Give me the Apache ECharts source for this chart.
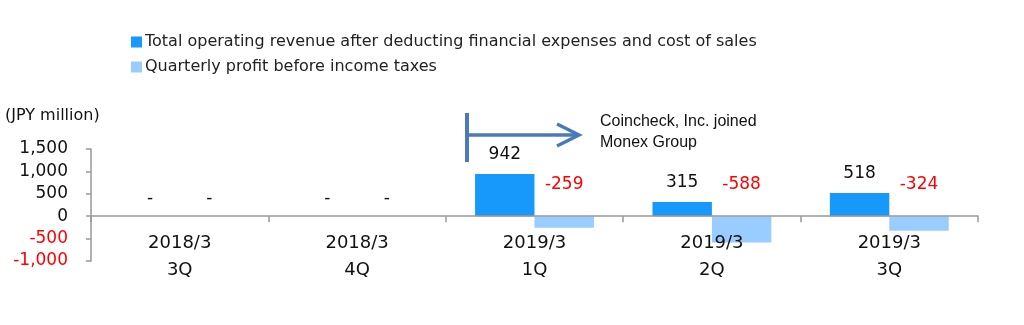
<!DOCTYPE html>
<html>
<head>
<meta charset="utf-8">
<script src="https://cdn.jsdelivr.net/npm/echarts@6/dist/echarts.min.js"></script>
<style>
  html, body { margin: 0; padding: 0; background: #fff; }
  #chart { width: 1024px; height: 325px; }
</style>
</head>
<body>
<div id="chart"></div>
<script>
// Quarterly figures, JPY million (null = not applicable)
const periods = ['2018/3', '2018/3', '2019/3', '2019/3', '2019/3'];
const quarters = ['3Q', '4Q', '1Q', '2Q', '3Q'];
const revenue = [null, null, 942, 315, 518];
const pretaxProfit = [null, null, -259, -588, -324];
const yTicks = { min: -1000, max: 1500, interval: 500 };

const seriesNames = [
  'Total operating revenue after deducting financial expenses and cost of sales',
  'Quarterly profit before income taxes'
];

const FONT = '"DejaVu Sans", Verdana, sans-serif';
const categories = periods.map((p, i) => p + '\n' + quarters[i]);

function fmt(v) {
  return v.toLocaleString('en-US');
}

// Missing values are shown as a dash sitting on the zero line
function toItems(values) {
  return values.map(v => v === null
    ? { value: 0, label: { formatter: '-', color: '#111', distance: 9 } }
    : { value: v });
}

const chart = echarts.init(document.getElementById('chart'), null, { renderer: 'canvas' });

chart.setOption({
  animation: false,
  textStyle: { fontFamily: FONT },
  legend: {
    orient: 'vertical',
    left: 126,
    top: 29,
    itemWidth: 11,
    itemHeight: 11,
    itemGap: 9,
    icon: 'rect',
    textStyle: { fontFamily: FONT, fontSize: 16, color: '#222', padding: [0, 0, 0, -2] },
    data: seriesNames
  },
  grid: { left: 91, right: 46, top: 149, bottom: 64, outerBoundsMode: 'none', containLabel: false },
  xAxis: {
    type: 'category',
    data: categories,
    z: 5,
    axisLine: { onZero: true, lineStyle: { color: '#999', width: 1.5 } },
    axisTick: { show: true, length: 6, inside: false, lineStyle: { color: '#999', width: 1.5 } },
    axisLabel: {
      fontFamily: FONT,
      fontSize: 18,
      color: '#111',
      margin: -31,
      lineHeight: 27
    }
  },
  yAxis: {
    type: 'value',
    min: yTicks.min,
    max: yTicks.max,
    interval: yTicks.interval,
    splitLine: { show: false },
    axisLine: { show: true, lineStyle: { color: '#999', width: 1.5 } },
    axisTick: { show: true, length: 5, lineStyle: { color: '#999', width: 1.5 } },
    axisLabel: {
      fontFamily: FONT,
      fontSize: 17,
      margin: 23,
      padding: [4, 0, 0, 0],
      formatter: v => fmt(v),
      color: v => (Number(v) < 0 ? '#ff0000' : '#111')
    }
  },
  series: [
    {
      name: seriesNames[0],
      type: 'bar',
      barGap: '0%',
      barCategoryGap: '33%',
      itemStyle: { color: '#1799fc' },
      label: {
        show: true,
        position: 'top',
        distance: 11,
        fontFamily: FONT,
        fontSize: 17,
        color: '#111',
        formatter: p => fmt(p.value)
      },
      data: toItems(revenue)
    },
    {
      name: seriesNames[1],
      type: 'bar',
      barGap: '0%',
      barCategoryGap: '33%',
      itemStyle: { color: '#99ccff' },
      label: {
        show: true,
        position: 'top',
        distance: 23,
        fontFamily: FONT,
        fontSize: 17,
        color: '#ff0000',
        formatter: p => fmt(p.value)
      },
      data: toItems(pretaxProfit)
    }
  ],
  graphic: [
    {
      type: 'text',
      left: 5,
      top: 108,
      style: { text: '(JPY million)', font: '16px ' + FONT, fill: '#111' }
    },
    {
      type: 'text',
      left: 600,
      top: 111,
      style: {
        text: 'Coincheck, Inc. joined\nMonex Group',
        font: '16px "Liberation Sans", Arial, sans-serif',
        lineHeight: 21,
        fill: '#111'
      }
    },
    // "joined from here" marker: vertical bar with a rightward arrow
    {
      type: 'line',
      shape: { x1: 467, y1: 113, x2: 467, y2: 162 },
      style: { stroke: '#4a7ab8', lineWidth: 4 }
    },
    {
      type: 'line',
      shape: { x1: 467, y1: 135, x2: 579, y2: 135 },
      style: { stroke: '#4a7ab8', lineWidth: 3.5 }
    },
    {
      type: 'polyline',
      shape: { points: [[557, 124], [579, 135], [557, 146]] },
      style: { stroke: '#4a7ab8', lineWidth: 3.5, fill: null }
    }
  ]
});
</script>
</body>
</html>
